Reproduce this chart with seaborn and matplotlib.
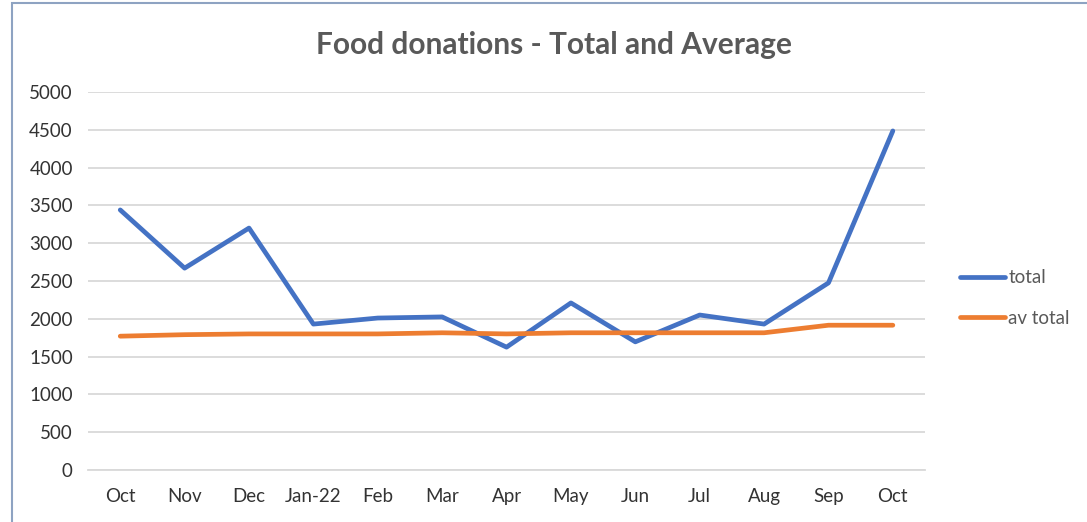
import numpy as np
import pandas as pd
import matplotlib
matplotlib.use('Agg')
import matplotlib.pyplot as plt
import seaborn as sns
from matplotlib.patches import Rectangle

# ==============================
# DATA
# ==============================
MONTHS = ["Oct", "Nov", "Dec", "Jan-22", "Feb", "Mar", "Apr",
          "May", "Jun", "Jul", "Aug", "Sep", "Oct"]
TOTAL = [3440, 2670, 3200, 1930, 2010, 2025, 1625, 2210, 1695, 2050, 1930, 2475, 4485]
AV_TOTAL = [1770, 1790, 1800, 1800, 1800, 1815, 1800, 1815, 1815, 1815, 1815, 1915, 1915]

SERIES = {"total": TOTAL, "av total": AV_TOTAL}
COLORS = {"total": "#4472C4", "av total": "#ED7D31"}

# ==============================
# BUILD LONG TABLE
# ==============================
rows = []
for name, vals in SERIES.items():
    for i, v in enumerate(vals):
        rows.append({"idx": i, "value": v, "series": name})
df = pd.DataFrame(rows)

# ==============================
# PLOT
# ==============================
sns.set_theme(style="white")
plt.rcParams['font.family'] = ['Lato', 'DejaVu Sans']

fig = plt.figure(figsize=(10.87, 5.22), dpi=100)
ax = fig.add_axes([0.081, 0.0996, 0.770, 0.7242])

sns.lineplot(data=df, x="idx", y="value", hue="series", palette=COLORS,
             linewidth=3.4, ax=ax, solid_capstyle="round", sort=False)

ax.set_xlim(-0.5, len(MONTHS) - 0.5)
ax.set_ylim(0, 5000)
ax.set_yticks(np.arange(0, 5001, 500))
ax.tick_params(axis='y', labelsize=13.5, labelcolor="#333333", length=0, pad=11)
ax.set_xticks(range(len(MONTHS)))
ax.set_xticklabels(MONTHS)
ax.tick_params(axis='x', which='major', labelsize=13.5, labelcolor="#333333", length=0, pad=13)
ax.set_xticks(np.arange(-0.5, len(MONTHS)), minor=True)
ax.tick_params(axis='x', which='minor', length=6, color="#d9d9d9", width=1.2)
ax.yaxis.grid(True, color="#d9d9d9", linewidth=1.3)
ax.set_axisbelow(True)
for side in ["top", "right", "left"]:
    ax.spines[side].set_visible(False)
ax.spines["bottom"].set_color("#d9d9d9")
ax.spines["bottom"].set_linewidth(1.3)
ax.set_xlabel("")
ax.set_ylabel("")

fig.text(0.51, 0.913, "Food donations - Total and Average", ha="center", va="center",
         fontsize=21.5, fontweight="bold", color="#595959")

leg = ax.legend(loc="center left", bbox_to_anchor=(1.022, 0.455), frameon=False,
                fontsize=13.5, handlelength=2.4, handletextpad=0.15, labelspacing=1.25)
for t in leg.get_texts():
    t.set_color("#595959")

# chart border
fig.patches.append(Rectangle((0.011, -0.05), 1.2, 1.045, transform=fig.transFigure,
                             fill=False, edgecolor="#8EA3C2", linewidth=1.5))

fig.savefig("out.png", dpi=100)
